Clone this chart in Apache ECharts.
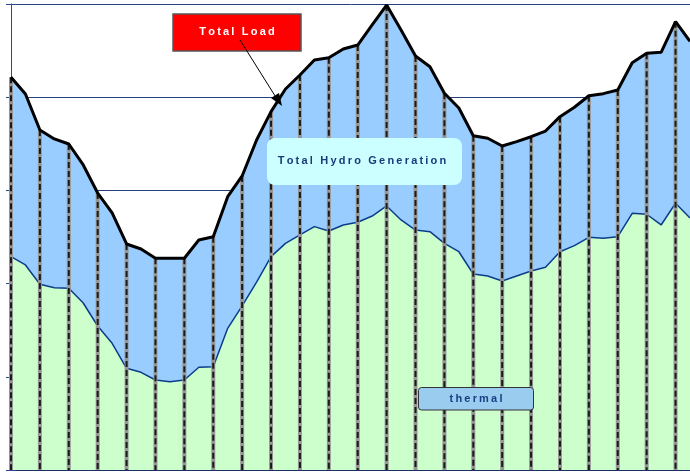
<!DOCTYPE html>
<html>
<head>
<meta charset="utf-8">
<script src="https://cdn.jsdelivr.net/npm/echarts@6/dist/echarts.min.js"></script>
<style>
  html, body { margin: 0; padding: 0; background: #fff; }
  #chart { width: 690px; height: 472px; }
</style>
</head>
<body>
<div id="chart"></div>
<script>
// half-hour steps, 48 points
const periods = [];
for (let i = 0; i < 48; i++) periods.push(String(i));

const totalLoad = [
  4214, 4034, 3648, 3552, 3498, 3273, 2972, 2758, 2425, 2371, 2272, 2272,
  2272, 2468, 2503, 2933, 3155, 3541, 3845, 4088, 4238, 4399, 4424, 4517,
  4560, 4775, 4989, 4721, 4442, 4327, 4042, 3884, 3587, 3559, 3476, 3523,
  3576, 3637, 3791, 3892, 4016, 4038, 4077, 4370, 4471, 4482, 4810, 4600
];

const thermal = [
  2289, 2200, 1993, 1956, 1950, 1792, 1545, 1359, 1091, 1048, 966, 947,
  966, 1102, 1108, 1520, 1760, 2017, 2289, 2432, 2522, 2611, 2564, 2629,
  2658, 2725, 2833, 2683, 2575, 2557, 2432, 2342, 2103, 2082, 2028, 2082,
  2135, 2175, 2342, 2407, 2497, 2486, 2503, 2754, 2744, 2629, 2862, 2704
];

const yTicks = [0, 1000, 2000, 3000, 4000, 5000];

// hourly drop lines, from the load curve down to the axis
const dropLines = [];
for (let i = 0; i < totalLoad.length; i += 2) dropLines.push([i, totalLoad[i]]);

function spaced(s) {
  return s.split('').join('\u2009');
}

const font = '"Liberation Sans", Arial, sans-serif';
const chart = echarts.init(document.getElementById('chart'));

chart.setOption({
  animation: false,
  grid: { left: 11, right: -5, top: 4, bottom: 2 },
  xAxis: {
    type: 'category',
    data: periods,
    boundaryGap: false,
    axisLine: { lineStyle: { color: '#1c2f63', width: 2 } },
    axisTick: {
      show: true, inside: true, length: 3,
      interval: (i) => i % 2 === 0,
      lineStyle: { color: '#1c3c80' }
    },
    axisLabel: { show: false },
    splitLine: { show: false }
  },
  yAxis: [{
    type: 'value',
    min: yTicks[0],
    max: yTicks[yTicks.length - 1],
    interval: 1000,
    axisLine: { show: true, lineStyle: { color: '#2b4a8b', width: 1 } },
    axisTick: { show: true, length: 5, lineStyle: { color: '#2b4a8b' } },
    axisLabel: { show: false },
    splitLine: { show: true, lineStyle: { color: '#243f7c', width: 1 } }
  }, {
    type: 'value',
    position: 'left',
    min: yTicks[0],
    max: yTicks[yTicks.length - 1],
    interval: 1000,
    axisLine: { show: false },
    axisTick: { show: true, inside: true, length: 5, lineStyle: { color: '#2b4a8b' } },
    axisLabel: { show: false },
    splitLine: { show: false }
  }],
  series: [{
    name: 'hydro',
    type: 'line',
    data: totalLoad,
    symbol: 'none',
    lineStyle: { width: 0, opacity: 0 },
    areaStyle: { color: '#99ccff', opacity: 1 },
    z: 1
  }, {
    name: 'thermal',
    type: 'line',
    data: thermal,
    symbol: 'none',
    lineStyle: { color: '#0b3c8c', width: 1.5 },
    areaStyle: { color: '#ccffcc', opacity: 1 },
    z: 2
  }, {
    name: 'drops',
    type: 'custom',
    data: dropLines,
    z: 3,
    renderItem: function (params, api) {
      const top = api.coord([api.value(0), api.value(1)]);
      const base = api.coord([api.value(0), 0]);
      return {
        type: 'group',
        children: [{
          type: 'line',
          shape: { x1: top[0], y1: top[1], x2: base[0], y2: base[1] },
          style: { stroke: '#969696', lineWidth: 4 }
        }, {
          type: 'line',
          shape: { x1: top[0], y1: top[1], x2: base[0], y2: base[1] },
          style: { stroke: '#1a1a1a', lineWidth: 2, lineDash: [6, 3] }
        }]
      };
    }
  }, {
    name: 'Total Load',
    type: 'line',
    data: totalLoad,
    symbol: 'none',
    lineStyle: { color: '#000000', width: 3 },
    z: 4
  }],
  graphic: [{
    type: 'line',
    shape: { x1: 240, y1: 40, x2: 277, y2: 99 },
    style: { stroke: '#000', lineWidth: 1 },
    z: 100
  }, {
    type: 'polygon',
    shape: { points: [[282, 106], [279, 93], [271, 98]] },
    style: { fill: '#000' },
    z: 100
  }, {
    type: 'rect',
    shape: { x: 173, y: 14, width: 128, height: 37 },
    style: { fill: '#ff0000', stroke: '#555', lineWidth: 1.5 },
    z: 99
  }, {
    type: 'text',
    x: 237, y: 32,
    style: {
      text: spaced('Total') + '\u2009 \u2009' + spaced('Load'),
      fill: '#fff', font: 'bold 11px ' + font,
      align: 'center', verticalAlign: 'middle'
    },
    z: 101
  }, {
    type: 'rect',
    shape: { x: 267, y: 138, width: 195, height: 47, r: 8 },
    style: { fill: '#ccffff' },
    z: 99
  }, {
    type: 'text',
    x: 362, y: 161,
    style: {
      text: spaced('Total') + '\u2009 \u2009' + spaced('Hydro') + '\u2009 \u2009' + spaced('Generation'),
      fill: '#1a3a7a', font: 'bold 11px ' + font,
      align: 'center', verticalAlign: 'middle'
    },
    z: 101
  }, {
    type: 'rect',
    shape: { x: 418.5, y: 387.5, width: 115, height: 22.5, r: 3 },
    style: { fill: '#99ccee', stroke: '#333', lineWidth: 1 },
    z: 99
  }, {
    type: 'text',
    x: 476, y: 399,
    style: {
      text: spaced('thermal'),
      fill: '#1a3f85', font: 'bold 11px ' + font,
      align: 'center', verticalAlign: 'middle'
    },
    z: 101
  }]
});
</script>
</body>
</html>
